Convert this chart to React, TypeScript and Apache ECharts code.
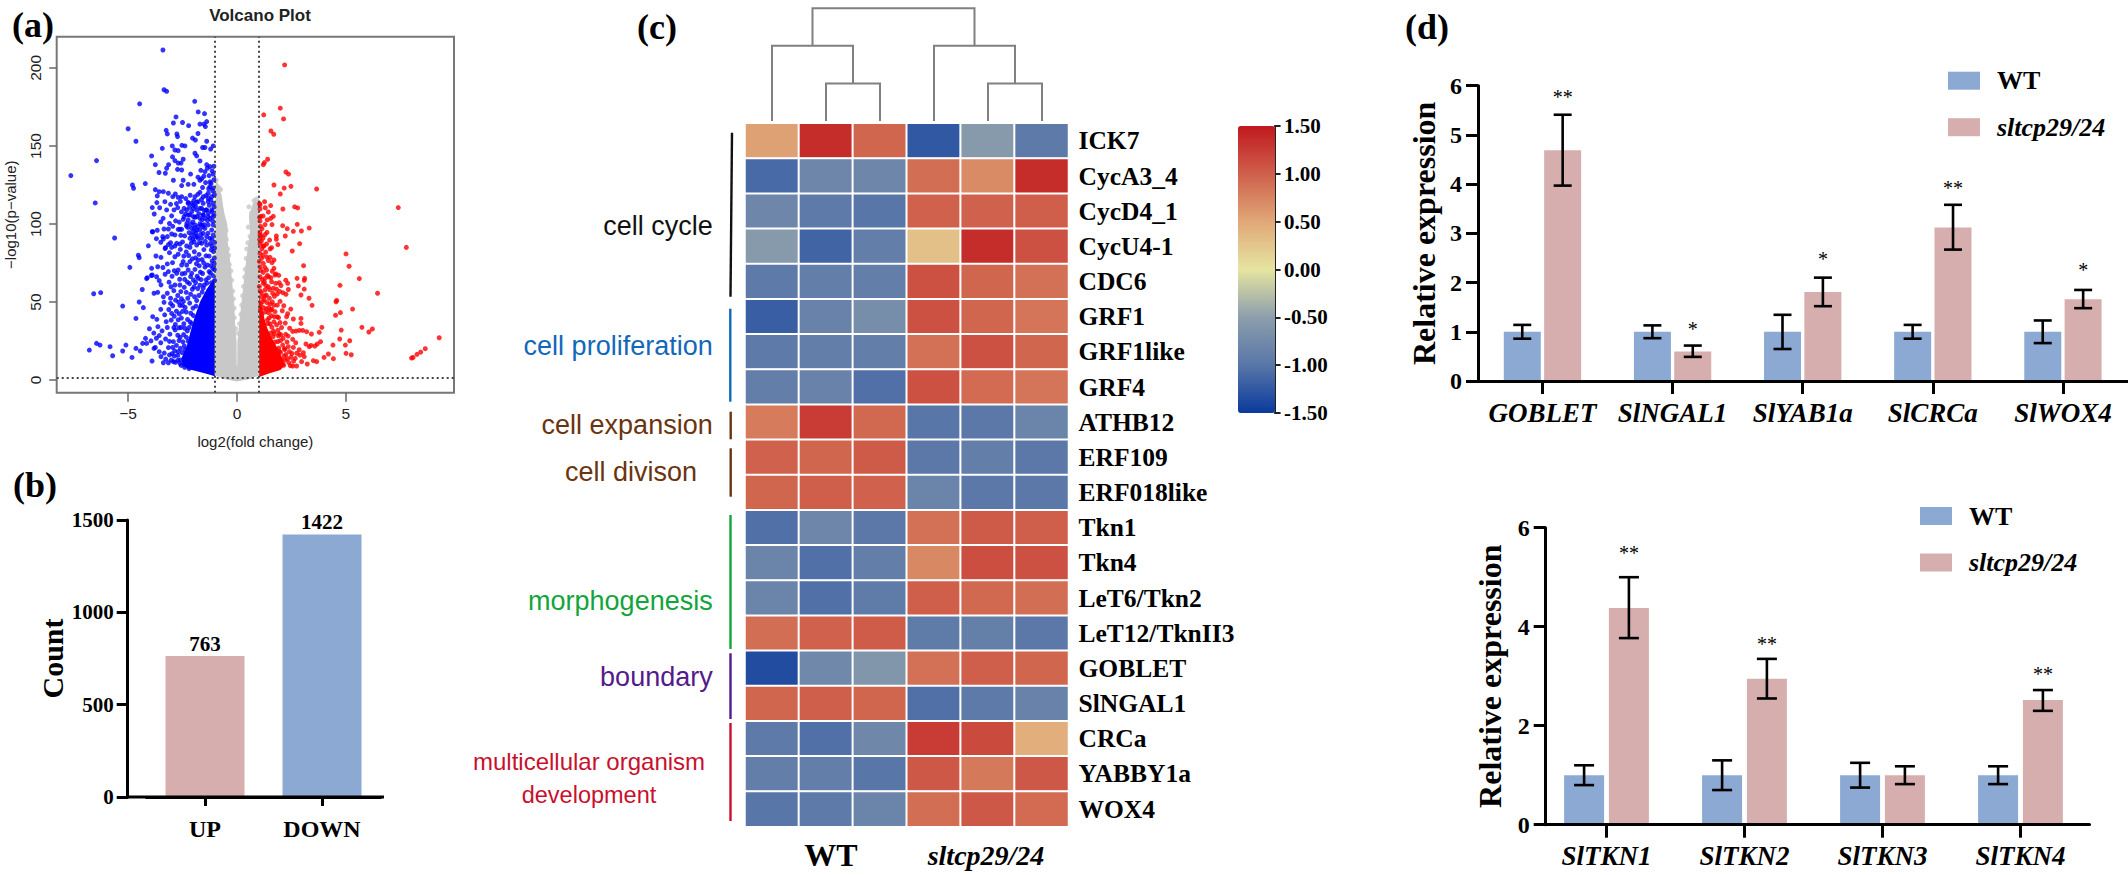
import React, { useEffect, useRef } from "react";
import * as echarts from "echarts";

const SERIF = '"Liberation Serif", serif';
const SANS = '"Liberation Sans", sans-serif';

// ---------- (a) volcano plot: values ----------
const volcanoDown: number[][] = [
  [-3.4,211.5],[-3.35,186],[-3.23,185],[-4.47,177],[-1.94,178.6],[-1.78,171.8],[-1.49,170.7],[-2.8,168.6],[-1.39,165.6],[-1.7,164],[-1.52,164],[-2.92,164.7],[-2.5,165],[-2.22,163],[-1.45,162.4],[-5,161],[-3.25,160],[-1.79,158],[-4.64,153],[-3.2,157.7],[-2.76,157.7],[-2.73,156],[-2.04,155],[-1.91,153.8],[-1.39,153],[-2.39,150],[-2.97,150],[-2.53,150.4],[-1.09,150],[-1.58,149],[-1.47,149],[-1.21,148],[-3.43,148.5],[-2.85,147.4],[-2.7,147],[-1.93,145.3],[-1.85,143.6],[-3.92,143.6],[-2.96,143],[-2.85,140.6],[-6.45,140.6],[-1.7,140.4],[-2.47,141.5],[-3.14,138],[-2.7,139],[-2.57,139],[-3.75,138],[-1.39,138],[-1.06,137],[-1.24,136.8],[-1.36,135.7],[-3.23,135.7],[-2.73,135],[-2.54,134.6],[-3.58,133],[-3.29,132.5],[-2.13,132],[-1.47,133.5],[-1.09,132],[-7.63,131],[-1.79,130],[-1.62,129],[-1.7,128],[-2.92,128],[-2.47,128],[-1.24,127],[-2.54,124.6],[-4.8,125],[-4.75,122.9],[-4.21,125.9],[-2.24,125.4],[-1.98,125.4],[-1.24,124],[-1.09,123],[-3.75,122],[-3.57,120.7],[-3.38,120.7],[-3.15,119.7],[-2.83,119.2],[-1.7,120.3],[-1.32,119.7],[-3.66,118],[-2.7,117],[-2.54,117.5],[-1.93,117.5],[-1.55,117.5],[-1.16,117.5],[-6.51,113.5],[-3.68,113.7],[-3.31,114.3],[-3.05,112.6],[-2.24,113.9],[-2.08,113.2],[-1.85,114],[-1.55,113.2],[-1.32,114.3],[-1.09,113.2],[-3.89,110.5],[-3.23,109],[-2.89,109],[-2.43,110],[-2,110],[-1.7,110],[-1.42,109],[-1.16,109],[-3.8,106.4],[-3.39,103.6],[-2.43,104.7],[-2.16,105.8],[-1.85,104.7],[-1.55,105.8],[-1.32,104.7],[-1.09,104.7],
  [-5.62,91],[-3.89,95],[-3.66,96],[-4.07,86],[-4.53,80],[-4.49,78.4],[-4.92,72.2],[-3.72,79.5],[-3.49,78.6],[-4.15,65],[-4.35,58],[-3.93,67],[-6.58,55.3],[-6.26,56],[-5.25,47.4],[-4.49,50],[-4.3,46.4],[-4.64,39.5],[-3.87,40.6],
  [-6.78,19.2],[-6.45,23.5],[-6.29,22.4],[-5.83,21.4],[-5.71,15.6],[-5.25,18.6],[-5.1,22.4],[-4.82,14.5],[-4.64,20.3],[-4.44,18.6],[-4.33,23.5],[-4.15,23.5],[-3.9,12.2],[-3.81,20.3],[-3.57,18.2],[-3.38,11.1],[-3.15,11.1],[-3.49,15],
  [-3.64,72.6],[-3.92,71.6],[-4.12,65.6],[-3.89,67.3],[-3.69,66.2],[-3.57,63.7],[-3.49,61],[-3.81,55.6],[-3.64,56.2],[-3.38,53.4],[-3.05,52.4],[-3.03,59.8],[-2.85,60.9],[-2.62,60.9],[-2.77,68.4],[-2.7,70.5],[-3.2,74.4],[-2.96,75.2],[-2.85,79],[-2.7,80.6],[-2.47,75.9],[-2.31,73.7],[-2.16,75.9],[-2.54,73.7],[-2.24,70.5],[-2.39,68.4],[-2.08,68.4],[-2,64.1],[-1.78,65.2],
  [-3.38,90.4],[-3.41,91.9],[-3.2,91.9],[-3,93.6],[-2.85,93],[-2.77,87.6],[-3.05,88],[-2.85,85.9],[-3,85],[-2.62,87.2],[-2.31,85.9],[-2.16,85],[-1.85,86.5],[-1.62,87.6],[-1.39,86.5],[-1.16,85.9],[-3.87,95],[-3.35,96.8],[-3.15,96.8],[-2.7,96.6],[-2.54,96.6],
  [-2.08,97.2],[-1.93,99.4],[-1.78,98.3],[-1.62,99.4],[-1.47,97.2],[-2,95],[-1.85,96.2],[-1.7,96.2],[-1.55,94],[-2.08,93],[-1.93,91.9],[-1.78,90.8],[-1.62,90.8],[-2.16,90.8],[-1.39,91.9],[-1.24,90.8],[-1.09,93],[-1.16,96.2],[-1.32,99.4],[-1.09,99.4],[-1.47,103.6],[-1.24,103.6],[-1.7,103.6],[-1.93,104.3],[-2.24,102.6],[-2.47,103],[-2.82,102],[-2.62,96.6],
  [-2.24,113.2],[-2,112.2],[-1.78,114.3],[-1.32,116.4],[-2.31,109],[-2.08,107.9],[-1.85,109],[-1.62,110],[-1.39,109],[-1.16,107.9],[-2.24,105.8],[-2,104.7],[-1.55,105.8],[-1.32,106.8],[-1.06,105.8],
  [-1.08,82.3],[-1.28,79.4],[-1.52,83.6],[-1.74,80.5],[-1.96,82.2],[-2.22,79.8],[-1.14,76.3],[-1.36,73.7],[-1.6,77.2],[-1.86,74.5],[-2.05,77.7],[-1.04,70.8],[-1.22,68.6],[-1.47,72.4],[-1.68,69.2],[-1.93,70.9],[-2.13,66.3],[-2.28,62.8],[-2.42,59.4],[-1.83,66.5],[-2.58,56.7],[-2.72,54.2],[-2.9,57.3],[-2.33,56.2],[-2.46,50.4],[-2.62,47.8],[-2.78,44.1],[-2.95,47.6],[-3.13,45.2],[-3.32,41.8],[-3.5,45.3],[-3.68,38.9],[-3.02,38.4],[-2.83,35.6],[-3.2,33.7],[-3.44,31.5],[-3.63,34.2],[-3.82,30.1],[-4.02,32.9],[-4.2,26.7],[-3.95,25.1],[-3.7,26.8],[-3.5,23.9],[-3.28,26.3],[-3.08,29.4],[-2.92,24.6],[-3.15,20.8],[-3.34,17.3],[-2.98,16.9],[-3.02,12.8],[-3.27,13.4],[-2.83,11.4],[-2.55,39.7],[-2.44,36.1],[-2.67,33.5],[-2.61,27.4],
  [-1.12,121.3],[-1.19,126],[-1.3,122.6],[-1.06,128.4],[-1.44,126.5],[-1.58,123.4],[-1.14,134],[-1.28,131],[-1.52,130.6],[-1.66,134.4],[-1.04,118.8],[-1.2,115.4],[-1.42,118.2],[-1.63,115.7],[-1.8,119],[-1.98,115],[-2.15,118.4],[-2.35,116.3],[-2.6,114.5],[-2.78,113.1],[-2.95,117.5],
  [-1.05,110.9],[-1.12,101.9],[-1.27,112],[-1.35,102.2],[-1.5,108.6],[-1.6,102.7],[-1.75,106.6],[-1.9,111.4],[-2.02,101.3],[-2.18,110.6],[-2.3,100.4],[-2.36,106.4],[-2.55,107.8],[-2.65,101.2],[-2.72,110.5],[-3,105.2],[-3.1,100.3],[-3.55,110.4],[-3.5,101.3],
  [-1.03,88.2],[-1.14,90.4],[-1.22,87.6],[-1.33,94.1],[-1.45,88.9],[-1.5,99.5],[-1.66,93.3],[-1.72,88.1],[-1.88,94.2],[-1.97,88.6],[-2.1,87.7],[-2.26,97.8],[-2.4,92.4],[-2.5,88.5],[-2.58,92.7],[-2.95,98.5],[-3.15,86.8],[-3.28,84.9],[-3.5,88.3],[-3.7,90.6],[-2.32,98.8],[-2.12,99.9],[-2.2,94.5],[-2.03,90.1],[-1.83,92.1],[-1.7,100.2],[-1.57,98.3],[-1.95,97.4],
  [-1.03,84.6],[-1.18,83.4],[-1.04,78.2],[-1.2,73.3],[-1.05,74.5],[-1.1,66.9],[-1.3,65.6],[-1.17,62.4],[-1.38,62.1],[-1.03,63.8],[-1.42,79.6],[-1.53,75.1],[-1.73,73.2],[-1.58,68.3],[-1.78,76.9],[-1.9,78.3],[-1.65,64.4],[-1.5,60.9],[-1.9,62.5],[-2.18,61.8],[-2.4,64.5],[-2.52,68.1],[-2.63,64.6],[-2.88,70.1],[-2.98,66.5],[-3.12,62.7],[-3.3,67.8],[-3.4,72.1],[-3.15,69.5],[-2.33,82.1],[-2.44,79.4],[-2.6,83.7],[-3.1,81.6],[-3.3,84.3],
  [-1.8,58.6],[-1.95,53.4],[-2.05,58.2],[-2.17,49.3],[-2.26,52.4],[-2.38,46.5],[-2.5,44],[-2.12,42.8],[-2.27,38.8],[-2.4,33.2],[-2.32,27.4],[-2.48,24.5],[-2.6,20.3],[-2.72,15.8],[-2.78,22.2],[-2.72,28.7],[-2.57,33.7],[-2.7,38.6],[-2.88,40.9],[-2.55,52.1],[-2.68,49.9],[-2.82,51.2],[-3.2,55.6],[-3.05,49.1],[-2.62,10.7],[-2.88,15.4],[-3.1,24.8],[-3.25,37.4],[-3.57,28.5],[-3.75,20.9],
  [-1.75,54.2],[-1.6,56.3],[-1.88,47.4],[-2.02,46.1],[-2.08,36.2],[-2.2,33.7],[-2.24,24.9],[-2.38,19.4],[-2.52,17.6],[-2.6,12.9],[-2.45,29.1],[-2.33,43.6],[-2.13,55],[-1.97,59.7],[-1.7,60.8],[-1.42,64.2],[-1.28,69.5],[-1.11,71.6],[-1.55,58.9],[-1.85,51],[-2,41.3],[-2.15,37.2],[-2.28,31.5],[-2.42,21.8],[-2.66,25.3],[-2.84,32.1],[-2.96,20.9],[-2.9,33.6],[-3,42.7],[-3.35,49.8],[-2.65,42.4],[-2.5,47.9],[-2.72,12.6],[-2.56,9.4],[-2.4,8.2],[-2.2,7.3],[-2.92,11.8],[-3.1,16.1],[-2.86,18.7],[-2.7,18.2],
];
const volcanoUp: number[][] = [
  [2.19,201.9],[1.99,174.2],[2.14,167.3],[1.23,169.9],[1.56,159.6],[1.69,157.5],[1.41,141.5],[1.26,139.3],[1.21,138],[2.25,133.3],[2.37,132],[1.7,125],[2.17,123],[2.48,124.1],[3.66,122.4],[1.99,119.2],[1.27,114.3],[1.06,112.2],[1.55,111.8],[2.65,111],[2.79,110.3],[2.11,109.6],[1.06,109.6],[1.44,107.7],[1.67,104.9],[1.09,104.9],[1.55,103.6],[1.39,102.6],[1.06,101.9],[2.77,99.8],[1.29,99.6],[1.61,99.6],[2.1,98.9],[3.32,97.4],[2.31,97],[2.96,95.5],[2.59,95.3],[1.06,94.7],[1.29,93.2],[1.06,93],[2.22,92.3],[1.81,92.3],[1.81,90.2],[2.88,87.4],[1.36,87.2],[1.06,87.2],[1.88,86.8],[1.24,85.9],[1.59,84.8],[1.52,84],[2.54,82.7],[1.32,82],[1.06,81.2],
  [9.29,27.1],[8.65,20.1],[8.44,17.9],[8.27,16.5],[8.09,14.5],[8.02,14.1],[7.41,110.5],[7.78,85],[5.01,80.8],[5.15,72.9],[5.62,65],[4.73,60.7],[6.46,55.6],[4.58,51],[4.55,50.2],[5.31,45.5],[4.75,43.2],[4.53,41.5],[5.74,33.8],[6.22,32.7],[6.06,30.8],[4.79,32],[4.72,26.3],[5.18,25.2],[4.98,22.4],[4.41,22.4],[5.01,17.1],[5.25,16.2],[4.2,16.7],[4.43,13.7],[4,14.5],
  [3.06,73.3],[2.76,65.2],[3.11,65.2],[3.09,63.9],[2.82,60.3],[3.09,58.3],[2.94,54.5],[3.31,52.4],[3.45,47.9],[2.47,45.5],[2.33,42.5],[2.28,40.6],[1.91,40],[2.22,36.5],[2.59,39.1],[2.94,39.5],[2.94,36.3],[3.9,33.8],[3.78,30.6],[3.42,29.5],[3.2,31],[3.02,31.8],[2.86,31.8],[2.71,31.4],[2.56,31.2],[3.84,24.6],[3.69,23.1],[3.58,21.8],[3.4,22.2],[3.32,21.4],[3.17,23.1],[2.56,26.1],[2.7,23.9],[2.86,19.4],[3.05,17.5],[2.89,16],[3.09,15],[3.51,12.4],[3.66,11.8],[3.23,10.3],[2.97,11.8],[2.74,9],[2.56,9],[2.36,21.4],[2.59,20.9],
  [2.24,64],[2.33,62],[2.36,58],[2.25,55],[2.11,56],[1.94,62.4],[1.75,67.3],[1.7,76.9],[1.52,78.6],[1.61,75.2],[1.21,74.8],[1.36,70.5],[1.56,65.6],[1.7,71.6],[1.79,68],[1.78,62],[1.59,63],[1.44,59.8],[1.67,58.8],[1.85,55.1],[1.64,55.6],[1.49,52.4],[1.7,48],[1.85,48],[1.52,48.7],[1.21,62],[1.29,57.7],[1.13,53.4],[1.06,72.6],[1.06,66.2],[1.13,78],[1.29,65.2],
  [2.1,10.4],[2.22,12.8],[2.38,11.2],[2.48,14.6],[2.6,12.1],[2.41,18.2],[2.53,17],[2.2,19.6],[2.3,24.4],[2.12,26.7],[1.95,29.6],[2.05,33.7],[1.82,35.4],[1.7,37.3],[1.58,41.2],[1.75,43.8],[1.46,46.3],[1.62,50.1],[1.35,54.4],[1.5,58],[1.26,62.8],[1.4,67],[1.14,84],[1.2,69],[1.03,60],[1.1,48.7],[1.92,20.5],[1.68,31.4],[1.9,13.3],[2.68,13.9],[2.75,17.2],
  [1.04,113],[1.08,98.5],[1.15,97],[1.04,90],[1.2,91],[1.12,89],[1.38,94.6],[1.03,76],[1.18,79.9],[1.1,70.3],[1.28,72.2],[1.44,76.6],[1.46,66.1],[1.15,64.4],[1.33,60.5],[1.07,57.1],[1.62,69.7],[1.92,67.1],[1.96,56.8],[1.72,53.7],[1.6,45.4],[1.38,49.6],[1.22,46.4],[1.15,42.2],[1.4,38.6],[1.52,36],[1.85,40.5],[1.98,36.8],[1.66,27.8],[1.88,24.7],[2,17.7],[2.16,15.4],[2.1,22.4],[1.78,19.7],
  [1.25,51.5],[1.35,45.6],[1.48,39.8],[1.6,33.9],[1.72,29.7],[1.9,28.4],[2,25.3],[2.18,20.1],[2.25,16.4],[2.32,13.7],[2.45,9.2],[2.15,9.5],[2.05,13],[1.95,18.3],[1.75,24.4],[1.55,30.1],[1.42,36.2],[1.3,43.7],[1.18,50.3],[1.12,55.9],[1.08,45.1],[1.28,54],[1.44,43.3],[1.56,44.8],[1.72,40.6],[1.88,31.9],[2.02,29],[2.24,29.3],[2.35,28.2],[2.42,33.2],[2.08,44.4],[2.15,47.6],[1.98,50.4],[1.82,58.2],[2.02,60.6],[1.2,85.8],[1.1,92.4],[1.36,78.9],[1.5,89.7],[1.04,104.2],[1.2,105.1],[1.3,110.4],
];
const volcanoFlat: number[][] = [
  [-0.95,128],[-0.9,124],[-0.82,123],[-0.75,122],[-0.95,118],[-0.85,119],[-0.78,113],[-0.92,112],[-0.86,108],[-0.72,109],[-0.6,102],[-0.55,98],[-0.5,96],[-0.62,92],[-0.48,90],[-0.42,84],[-0.38,80],[-0.35,74],[-0.28,70],[-0.24,64],[-0.19,57],[-0.16,52],[-0.13,46],[-0.12,40],[-0.05,33],
  [0.98,114],[0.9,116],[0.78,115],[0.55,111],[0.85,109],[0.66,107],[0.95,105],[0.72,100],[0.52,98],[0.6,92],[0.5,88],[0.45,84],[0.42,78],[0.38,71],[0.35,66],[0.3,60],[0.26,54],[0.22,48],[0.18,42],[0.12,36],[0.06,30],
];
// Outlines of the parts where the points merge into a solid mass.
const flatMass: number[][] = [[-1,3],[-0.6,0.6],[0,-1],[0.6,0.6],[1,3],[1,112],[0.85,116],[0.7,112],[0.55,105],[0.6,95],[0.5,85],[0.38,72],[0.27,57],[0.17,45],[0.08,32],[0.02,25],[0.01,9],[-0.01,9],[-0.02,25],[-0.08,35],[-0.12,48],[-0.2,60],[-0.3,75],[-0.42,88],[-0.45,100],[-0.6,108],[-0.7,118],[-0.85,125],[-0.98,130]];
const downMass: number[][] = [[-1.02,2.5],[-1.4,4],[-1.8,5.5],[-2.2,7],[-2.5,9],[-2.55,14],[-2.3,22],[-2.15,30],[-1.95,40],[-1.7,50],[-1.4,58],[-1.2,62],[-1.02,65]];
const upMass: number[][] = [[1.02,2],[1.5,4.3],[2,6.4],[2.2,9.6],[2.05,15],[1.8,22],[1.6,27],[1.4,33],[1.25,40],[1.1,50],[1.02,55]];
const volcanoXTicks = [-5, 0, 5];
const volcanoYTicks = [0, 50, 100, 150, 200];
const foldCutoffs = [-1, 1];
const pCutoff = 1.3;

// ---------- (b) DEG counts ----------
const countLabels = ["UP", "DOWN"];
const countValues = [763, 1422];

// ---------- (c) heat map ----------
const genes = ["ICK7","CycA3_4","CycD4_1","CycU4-1","CDC6","GRF1","GRF1like","GRF4","ATHB12","ERF109","ERF018like","Tkn1","Tkn4","LeT6/Tkn2","LeT12/TknII3","GOBLET","SlNGAL1","CRCa","YABBY1a","WOX4"];
const samples = ["WT-1","WT-2","WT-3","sltcp29/24-1","sltcp29/24-2","sltcp29/24-3"];
const heatRows: number[][] = [
  [0.55,1.35,0.95,-1.25,-0.55,-0.95],
  [-1.1,-0.8,-0.8,0.9,0.7,1.35],
  [-0.8,-0.95,-1.0,0.98,0.98,1.0],
  [-0.55,-1.15,-0.9,0.3,1.35,1.1],
  [-0.95,-0.9,-0.9,1.1,0.95,0.88],
  [-1.2,-0.85,-0.7,1.1,0.95,0.85],
  [-0.95,-0.9,-0.9,0.88,1.1,0.95],
  [-0.9,-0.85,-1.05,1.1,0.92,0.85],
  [0.8,1.25,0.93,-1.0,-0.97,-0.82],
  [0.98,0.95,1.03,-0.97,-0.9,-0.97],
  [0.95,1.0,0.98,-0.82,-0.97,-0.97],
  [-1.05,-0.8,-0.97,0.88,1.03,1.0],
  [-0.82,-1.05,-0.9,0.72,1.12,1.1],
  [-0.82,-1.05,-0.93,1.0,0.93,0.9],
  [0.9,0.98,1.02,-0.93,-0.88,-0.97],
  [-1.35,-0.77,-0.6,0.88,1.0,0.95],
  [0.95,1.0,0.95,-1.05,-0.95,-0.85],
  [-0.95,-1.05,-0.78,1.25,1.15,0.45],
  [-0.9,-0.9,-1.0,1.05,0.82,1.05],
  [-1.0,-0.95,-0.82,0.9,1.05,0.92],
];
const heatColors = ["#0A3A9C","#5876A8","#8C9EAC","#E6E5A0","#E0A878","#CF5F4B","#C0181E"];
// Cluster tree: [left x, left height, right x, right height, join height], x in column units.
const treeMerges: number[][] = [
  [1.5,0,2.5,0,1],
  [0.5,0,2,1,2],
  [4.5,0,5.5,0,1],
  [3.5,0,5,1,2],
  [1.25,2,4.25,2,3],
];
const groupNames = ["cell cycle","cell proliferation","cell expansion","cell divison","morphogenesis","boundary"];
const groupColors = ["#111111","#1268B8","#6B3410","#6B3410","#12A53C","#551A8B"];

// ---------- (d) qPCR ----------
const WT = "WT";
const MUT = "sltcp29/24";
const organGenes = ["GOBLET","SlNGAL1","SlYAB1a","SlCRCa","SlWOX4"];
const organWt = [1,1,1,1,1];
const organWtLow = [0.86,0.87,0.65,0.86,0.77];
const organWtHigh = [1.14,1.13,1.345,1.14,1.23];
const organMut = [4.69,0.6,1.81,3.12,1.66];
const organMutLow = [3.97,0.49,1.52,2.67,1.48];
const organMutHigh = [5.41,0.72,2.1,3.58,1.85];
const organSig = ["**","*","*","**","*"];
const organSigY = [5.82,1.1,2.52,3.97,2.29];

const tknGenes = ["SlTKN1","SlTKN2","SlTKN3","SlTKN4"];
const tknWt = [1,1,1,1];
const tknWtLow = [0.8,0.7,0.75,0.82];
const tknWtHigh = [1.2,1.3,1.25,1.18];
const tknMut = [4.38,2.95,1.0,2.52];
const tknMutLow = [3.77,2.55,0.82,2.3];
const tknMutHigh = [5.0,3.35,1.18,2.72];
const tknSig = ["**","**","","**"];
const tknSigY = [5.53,3.7,0,3.09];

const BLUE = "#8BA9D3";
const PINK = "#D7AEAE";

function massSeries(name: string, outline: number[][], fill: string) {
  return {
    type: "custom", name, xAxisIndex: 0, yAxisIndex: 0, silent: true, data: [[0, 0]],
    renderItem: (_p: any, api: any) => ({
      type: "polygon",
      shape: { points: outline.map((pt) => api.coord(pt)) },
      style: { fill },
    }),
  };
}

function errorSeries(axisIdx: number, low: number[], high: number[], side: number, offset: number, cap: number) {
  return {
    type: "custom", silent: true, xAxisIndex: axisIdx, yAxisIndex: axisIdx, z: 6,
    data: low.map((l, i) => [i, l, high[i]]),
    encode: { x: 0, y: [1, 2] },
    renderItem: (_p: any, api: any) => {
      const a = api.coord([api.value(0), api.value(1)]);
      const b = api.coord([api.value(0), api.value(2)]);
      const x = a[0] + side * offset;
      const s = { stroke: "#000", lineWidth: 2.6 };
      return {
        type: "group",
        children: [
          { type: "line", shape: { x1: x, y1: a[1], x2: x, y2: b[1] }, style: s },
          { type: "line", shape: { x1: x - cap, y1: a[1], x2: x + cap, y2: a[1] }, style: s },
          { type: "line", shape: { x1: x - cap, y1: b[1], x2: x + cap, y2: b[1] }, style: s },
        ],
      };
    },
  };
}

function sigSeries(axisIdx: number, sig: string[], sigY: number[], offset: number) {
  return {
    type: "custom", silent: true, xAxisIndex: axisIdx, yAxisIndex: axisIdx, z: 6,
    data: sig.map((_s, i) => [i, sigY[i]]),
    renderItem: (p: any, api: any) => {
      const c = api.coord([api.value(0), api.value(1)]);
      return {
        type: "text",
        style: {
          text: sig[p.dataIndex], x: c[0] + offset, y: c[1] + 2,
          font: `20px ${SERIF}`, fill: "#000", align: "center", verticalAlign: "middle",
        },
      };
    },
  };
}

function barAxisY(gridIndex: number, max: number, interval: number, name: string, nameGap: number, offset = 0) {
  return {
    type: "value", gridIndex, min: 0, max, interval, offset, name, nameLocation: "middle", nameGap, nameRotate: 90, z: 5,
    nameTextStyle: { fontFamily: SERIF, fontWeight: "bold", fontSize: 32, color: "#000" },
    axisLine: { show: true, lineStyle: { color: "#000", width: 3 } },
    axisTick: { show: true, length: 12, lineStyle: { color: "#000", width: 3 } },
    axisLabel: { margin: 16, fontFamily: SERIF, fontWeight: "bold", fontSize: 24, color: "#000", formatter: (v: number) => String(v) },
    splitLine: { show: false },
  };
}

function barAxisX(gridIndex: number, data: string[]) {
  return {
    type: "category", gridIndex, data, z: 5,
    axisLine: { show: true, lineStyle: { color: "#000", width: 3 } },
    axisTick: { show: true, alignWithLabel: true, length: 13, lineStyle: { color: "#000", width: 3 } },
    axisLabel: { margin: 18, fontFamily: SERIF, fontWeight: "bold", fontStyle: "italic", fontSize: 27, color: "#000", interval: 0 },
  };
}

function legendAt(left: number, top: number) {
  return {
    orient: "vertical", left, top, padding: 0, itemWidth: 32, itemHeight: 18, itemGap: 20.5, icon: "rect", selectedMode: false,
    textStyle: { fontFamily: SERIF, fontWeight: "bold", fontSize: 26, color: "#000", padding: [0, 0, 0, 12] },
    data: [
      { name: WT },
      { name: MUT, textStyle: { fontStyle: "italic", fontFamily: SERIF, fontWeight: "bold", fontSize: 26, color: "#000", padding: [0, 0, 0, 12] } },
    ],
  };
}

function label(text: string, x: number, y: number, font: string, fill = "#000", align = "left") {
  return { type: "text", x, y, silent: true, style: { text, font, fill, align, verticalAlign: "middle" } };
}
function rule(x1: number, y1: number, x2: number, y2: number, stroke: string, lineWidth = 2.4) {
  return { type: "line", silent: true, shape: { x1, y1, x2, y2 }, style: { stroke, lineWidth } };
}

function buildOption() {
  const panelFont = `bold 36px ${SERIF}`;
  const groupFont = `27px ${SANS}`;
  const groupY = [226, 345.7, 425, 472.3, 600.7, 677];
  const groupRight = [712.7, 712.7, 712.7, 697, 712.7, 712.7];
  const graphic: any[] = [
    label("(a)", 12, 25, panelFont),
    label("(b)", 13, 485, panelFont),
    label("(c)", 637, 27, panelFont),
    label("(d)", 1405, 27, panelFont),
    ...groupNames.map((g, i) => label(g, groupRight[i], groupY[i], groupFont, groupColors[i], "right")),
    label("multicellular organism", 589, 761, `24px ${SANS}`, "#C8102E", "center"),
    label("development", 589, 795, `23.5px ${SANS}`, "#C8102E", "center"),
    rule(732, 132.7, 730.5, 296.7, "#111111"),
    rule(730.3, 308.7, 730.3, 401.7, "#1268B8"),
    rule(730.7, 411.7, 730.7, 439.3, "#6B3410"),
    rule(730.7, 448.3, 730.7, 496.7, "#6B3410"),
    rule(730.5, 515, 730.5, 649, "#12A53C"),
    rule(730.5, 653.3, 730.5, 719, "#551A8B"),
    rule(730.5, 723, 730.5, 821, "#C8102E"),
    label("WT", 831, 855, `bold 32px ${SERIF}`, "#000", "center"),
    label(MUT, 986, 855, `italic bold 28px ${SERIF}`, "#000", "center"),
    { ...rule(126.2, 797, 384, 797, "#000", 3), z: 10 },
  ];

  return {
    animation: false,
    backgroundColor: "#fff",
    title: {
      text: "Volcano Plot", left: 255, top: 2, textAlign: "center",
      textStyle: { fontFamily: SANS, fontWeight: "bold", fontSize: 17, color: "#222" },
    },
    graphic,
    legend: [legendAt(1948, 67.7), legendAt(1920, 503)],
    visualMap: {
      type: "continuous", min: -1.5, max: 1.5, left: 1238, top: 126, itemWidth: 37, itemHeight: 287, padding: 0,
      calculable: false, hoverLink: false, seriesIndex: [7], dimension: 2,
      inRange: { color: heatColors },
    },
    grid: [
      { left: 56.7, top: 36.7, width: 397.3, height: 356, show: true, borderColor: "#777", borderWidth: 2, backgroundColor: "transparent" },
      { left: 146.5, top: 520, width: 234, height: 277 },
      { left: 745, top: 123.3, width: 323.5, height: 703.4 },
      { left: 745, top: 8.3, width: 324, height: 112.7 },
      { left: 1274.6, top: 126, width: 1, height: 287 },
      { left: 1477.4, top: 85.7, width: 653, height: 295.3 },
      { left: 1537.5, top: 527.7, width: 552, height: 297 },
    ],
    xAxis: [
      {
        type: "value", gridIndex: 0, min: -8.28, max: 9.97, name: "log2(fold change)", nameLocation: "middle", nameGap: 41,
        nameTextStyle: { fontFamily: SANS, fontSize: 15, color: "#222" },
        axisLine: { show: false, onZero: false },
        axisTick: { show: true, length: 9, customValues: volcanoXTicks, lineStyle: { color: "#666", width: 1.5 } },
        axisLabel: { margin: 13, fontFamily: SANS, fontSize: 15.5, color: "#222", customValues: volcanoXTicks, formatter: (v: number) => String(v).replace("-", "\u2212") },
        splitLine: { show: false },
      },
      { type: "category", gridIndex: 1, data: countLabels, z: 5,
        axisLine: { show: true, lineStyle: { color: "#000", width: 3 } },
        axisTick: { show: true, alignWithLabel: true, length: 9, lineStyle: { color: "#000", width: 3 } },
        axisLabel: { margin: 20, fontFamily: SERIF, fontWeight: "bold", fontSize: 24, color: "#000" } },
      { type: "category", gridIndex: 2, data: samples, show: false },
      { type: "value", gridIndex: 3, min: 0, max: 6, show: false },
      { type: "value", gridIndex: 4, min: 0, max: 1, show: false },
      barAxisX(5, organGenes),
      barAxisX(6, tknGenes),
    ],
    yAxis: [
      {
        type: "value", gridIndex: 0, min: -8.1, max: 220, name: "\u2212log10(p\u2212value)", nameLocation: "middle", nameGap: 39, nameRotate: 90,
        nameTextStyle: { fontFamily: SANS, fontSize: 15, color: "#222" },
        axisLine: { show: false, onZero: false },
        axisTick: { show: true, length: 7.5, customValues: volcanoYTicks, lineStyle: { color: "#666", width: 1.5 } },
        axisLabel: { margin: 13, rotate: 90, fontFamily: SANS, fontSize: 15.5, color: "#222", customValues: volcanoYTicks },
        splitLine: { show: false },
      },
      { ...barAxisY(1, 1500, 500, "Count", 60, 18.8),
        nameTextStyle: { fontFamily: SERIF, fontWeight: "bold", fontSize: 30, color: "#000" },
        axisTick: { show: true, length: 11, lineStyle: { color: "#000", width: 3 } },
        axisLabel: { margin: 14, fontFamily: SERIF, fontWeight: "bold", fontSize: 21, color: "#000", formatter: (v: number) => String(v) } },
      { type: "category", gridIndex: 2, data: genes, inverse: true, position: "right",
        axisLine: { show: false }, axisTick: { show: false },
        axisLabel: { margin: 10, fontFamily: SERIF, fontWeight: "bold", fontSize: 25.5, color: "#000", interval: 0 } },
      { type: "value", gridIndex: 3, min: 0, max: 3, show: false },
      { type: "value", gridIndex: 4, min: -1.5, max: 1.5, interval: 0.5, position: "left", offset: 0,
        axisLine: { show: true, lineStyle: { color: "#222", width: 2 } },
        axisTick: { show: true, inside: true, length: 6, lineStyle: { color: "#222", width: 2 } },
        axisLabel: { inside: true, margin: 9.5, fontFamily: SERIF, fontWeight: "bold", fontSize: 21, color: "#000", formatter: (v: number) => v.toFixed(2) },
        splitLine: { show: false } },
      barAxisY(5, 6, 1, "Relative expression", 38, -0.6),
      barAxisY(6, 6, 2, "Relative expression", 40, -8.2),
    ],
    series: [
      massSeries("not significant mass", flatMass, "#C8C8C8"),
      { type: "scatter", name: "not significant", xAxisIndex: 0, yAxisIndex: 0, data: volcanoFlat, symbolSize: 5, itemStyle: { color: "#C8C8C8" }, silent: true },
      massSeries("down mass", downMass, "#0000FF"),
      { type: "scatter", name: "down", xAxisIndex: 0, yAxisIndex: 0, data: volcanoDown, symbolSize: 5, itemStyle: { color: "#0000FF" }, silent: true },
      massSeries("up mass", upMass, "#FF0000"),
      { type: "scatter", name: "up", xAxisIndex: 0, yAxisIndex: 0, data: volcanoUp, symbolSize: 5, itemStyle: { color: "#FF0000" }, silent: true,
        markLine: {
          silent: true, symbol: "none", animation: false, label: { show: false },
          lineStyle: { type: [2, 3], color: "#444", width: 2 },
          data: [...foldCutoffs.map((v) => ({ xAxis: v })), { yAxis: pCutoff }],
        } },
      { type: "bar", name: "count", xAxisIndex: 1, yAxisIndex: 1, barWidth: 79, z: 2,
        data: countValues.map((v, i) => ({ value: v, itemStyle: { color: [PINK, BLUE][i] } })),
        label: { show: true, position: "top", distance: 2, fontFamily: SERIF, fontWeight: "bold", fontSize: 21, color: "#000" } },
      { type: "heatmap", name: "expression", xAxisIndex: 2, yAxisIndex: 2, silent: true,
        data: heatRows.flatMap((row, r) => row.map((v, c) => [c, r, v])),
        itemStyle: { borderColor: "#fff", borderWidth: 2 } },
      { type: "custom", name: "tree", xAxisIndex: 3, yAxisIndex: 3, silent: true, data: treeMerges,
        encode: { x: [0, 2], y: [1, 3, 4] },
        renderItem: (_p: any, api: any) => {
          const [lx, lh, rx, rh, top] = [0, 1, 2, 3, 4].map((i) => api.value(i));
          return {
            type: "polyline",
            shape: { points: [api.coord([lx, lh]), api.coord([lx, top]), api.coord([rx, top]), api.coord([rx, rh])] },
            style: { stroke: "#808080", lineWidth: 2, fill: "none" },
          };
        } },
      { type: "bar", name: WT, xAxisIndex: 5, yAxisIndex: 5, data: organWt, barWidth: 37, barGap: "9%", itemStyle: { color: BLUE } },
      { type: "bar", name: MUT, xAxisIndex: 5, yAxisIndex: 5, data: organMut, barWidth: 37, barGap: "9%", itemStyle: { color: PINK } },
      errorSeries(5, organWtLow, organWtHigh, -1, 20.2, 9),
      errorSeries(5, organMutLow, organMutHigh, 1, 20.2, 9),
      sigSeries(5, organSig, organSigY, 20.2),
      { type: "bar", name: WT, xAxisIndex: 6, yAxisIndex: 6, data: tknWt, barWidth: 40, barGap: "12%", itemStyle: { color: BLUE } },
      { type: "bar", name: MUT, xAxisIndex: 6, yAxisIndex: 6, data: tknMut, barWidth: 40, barGap: "12%", itemStyle: { color: PINK } },
      errorSeries(6, tknWtLow, tknWtHigh, -1, 22.4, 10),
      errorSeries(6, tknMutLow, tknMutHigh, 1, 22.4, 10),
      sigSeries(6, tknSig, tknSigY, 22.4),
    ],
  };
}

export default function App() {
  const ref = useRef<HTMLDivElement>(null);
  useEffect(() => {
    document.body.style.margin = "0";
    const chart = echarts.init(ref.current!, undefined, { renderer: "svg" });
    chart.setOption(buildOption() as any);
    return () => chart.dispose();
  }, []);
  return <div ref={ref} style={{ width: 2128, height: 875, background: "#fff" }} />;
}
